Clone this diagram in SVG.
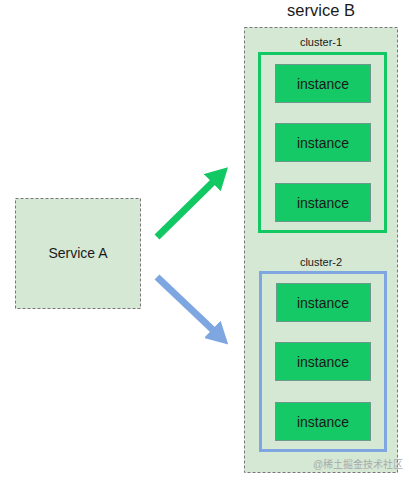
<svg xmlns="http://www.w3.org/2000/svg" width="409" height="483" viewBox="0 0 409 483">
<style>
text{font-family:"Liberation Sans",Arial,sans-serif;fill:#1a1a1a;text-anchor:middle}
.dash{fill:#d5e8d4;stroke:#777;stroke-width:1;stroke-dasharray:3 2}
.inst{fill:#15c966;stroke:#6b9a8c;stroke-width:1}
.it{font-size:14px}
.cl{font-size:11px}
</style>
<defs>
<marker id="hg" viewBox="0 0 22 24" refX="1" refY="12" markerWidth="22" markerHeight="24" markerUnits="userSpaceOnUse" orient="auto"><path d="M0,0 L22,12 L0,24 z" fill="#12c862"/></marker>
<marker id="hb" viewBox="0 0 22 24" refX="1" refY="12" markerWidth="22" markerHeight="24" markerUnits="userSpaceOnUse" orient="auto"><path d="M0,0 L22,12 L0,24 z" fill="#7ea6e0"/></marker>
</defs>
<g id="serviceA">
<rect class="dash" x="15.5" y="198.5" width="125" height="110"/>
<text x="78" y="258" style="font-size:14px">Service A</text>
</g>
<g id="serviceB">
<rect class="dash" x="244.5" y="27.5" width="153" height="445"/>
<text x="321" y="16" style="font-size:16.5px">service B</text>
</g>
<g id="cluster1">
<text class="cl" x="321" y="46">cluster-1</text>
<rect x="259.5" y="53.5" width="126" height="178" fill="none" stroke="#12c862" stroke-width="3"/>
</g>
<g id="c1i1"><rect class="inst" x="275.5" y="64.5" width="95" height="38"/><text class="it" x="323" y="88.5">instance</text></g>
<g id="c1i2"><rect class="inst" x="275.5" y="123.5" width="95" height="38"/><text class="it" x="323" y="147.5">instance</text></g>
<g id="c1i3"><rect class="inst" x="275.5" y="183.5" width="95" height="38"/><text class="it" x="323" y="207.5">instance</text></g>
<g id="cluster2">
<text class="cl" x="321" y="266">cluster-2</text>
<rect x="260.5" y="272.5" width="125" height="178" fill="none" stroke="#7ea6e0" stroke-width="3"/>
</g>
<g id="c2i1"><rect class="inst" x="276.5" y="283.5" width="94" height="38"/><text class="it" x="323" y="307.5">instance</text></g>
<g id="c2i2"><rect class="inst" x="275.5" y="342.5" width="95" height="38"/><text class="it" x="323" y="366.5">instance</text></g>
<g id="c2i3"><rect class="inst" x="275.5" y="402.5" width="95" height="38"/><text class="it" x="323" y="426.5">instance</text></g>
<g id="connectors">
<line x1="157" y1="237" x2="213" y2="182" stroke="#12c862" stroke-width="7" marker-end="url(#hg)"/>
<line x1="157" y1="277" x2="213" y2="330" stroke="#7ea6e0" stroke-width="7" marker-end="url(#hb)"/>
</g>
<text x="358" y="468" style="font-size:10px;fill:#aaa;font-family:'Liberation Sans','Noto Sans CJK SC',sans-serif">@稀土掘金技术社区</text>
</svg>
